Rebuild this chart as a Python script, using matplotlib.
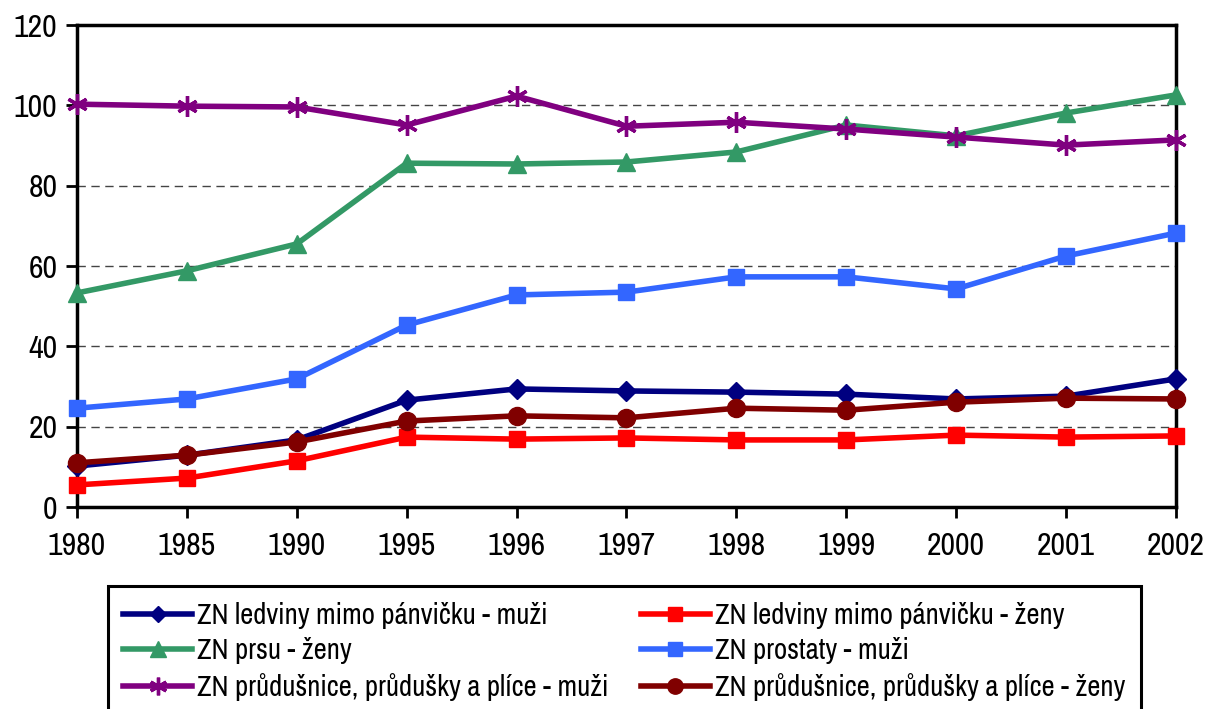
import matplotlib.pyplot as plt
import numpy as np

years = ["1980", "1985", "1990", "1995", "1996", "1997", "1998", "1999", "2000", "2001", "2002"]

ledviny_muzi = [10.2, 12.9, 16.7, 26.6, 29.4, 28.9, 28.6, 28.1, 26.9, 27.6, 31.9]
ledviny_zeny = [5.5, 7.2, 11.5, 17.4, 16.9, 17.2, 16.7, 16.7, 17.9, 17.4, 17.7]
prsu_zeny = [53.3, 58.8, 65.5, 85.6, 85.4, 85.9, 88.4, 95.1, 92.4, 98.1, 102.6]
prostaty_muzi = [24.6, 26.9, 31.9, 45.3, 52.8, 53.5, 57.3, 57.3, 54.3, 62.5, 68.2]
plice_muzi = [100.3, 99.8, 99.6, 95.1, 102.3, 94.8, 95.8, 94.1, 92.1, 90.1, 91.4]
plice_zeny = [11.0, 12.9, 16.2, 21.4, 22.7, 22.2, 24.6, 24.1, 26.1, 27.1, 26.9]

labels = [
    "ZN ledviny mimo pánvičku - muži",
    "ZN ledviny mimo pánvičku - ženy",
    "ZN prsu - ženy",
    "ZN prostaty - muži",
    "ZN průdušnice, průdušky a plíce - muži",
    "ZN průdušnice, průdušky a plíce - ženy",
]

# narrow sans, close to Arial Narrow
plt.rcParams['font.family'] = ['Liberation Sans Narrow', 'Archivo Narrow', 'Liberation Sans', 'DejaVu Sans']

fig = plt.figure(figsize=(12.08, 7.09), dpi=100)
ax = fig.add_axes([0.0637, 0.2849, 0.9735 - 0.0637, 0.9647 - 0.2849])

x = np.arange(len(years))
series = [
    (ledviny_muzi, "#000080", "D", 10),
    (ledviny_zeny, "#FF0000", "s", 12),
    (prsu_zeny, "#339966", "^", 13),
    (prostaty_muzi, "#3366FF", "s", 12),
    (plice_muzi, "#800080", (6, 2, 0), 15),
    (plice_zeny, "#800000", "o", 13),
]

handles = []
for (vals, color, marker, ms), label in zip(series, labels):
    mew = 2.4 if marker == (6, 2, 0) else 1
    h, = ax.plot(x, vals, color=color, lw=4, marker=marker, markersize=ms,
                 markeredgewidth=mew, markeredgecolor=color, label=label, clip_on=False, zorder=3)
    handles.append(h)

ax.set_xlim(0, len(years) - 1)
ax.set_ylim(0, 120)
ax.set_yticks(range(0, 121, 20))
ax.set_xticks(x)
ax.set_xticklabels(years)
ax.tick_params(axis='both', labelsize=23, width=2, length=8, direction='out', colors='black')
ax.tick_params(axis='x', pad=10)
ax.tick_params(axis='y', pad=6)
ax.yaxis.grid(True, linestyle=(0, (6, 4)), color='#444444', linewidth=1)
ax.set_axisbelow(True)
for sp in ax.spines.values():
    sp.set_linewidth(2.5)
    sp.set_color('black')

# legend rows: navy/red, green/blue, purple/darkred (column-major order for ncol=2)
order = [0, 2, 4, 1, 3, 5]
leg = fig.legend([handles[i] for i in order], [labels[i] for i in order],
                 loc='upper left', bbox_to_anchor=(0.089, 0.1735),
                 ncol=2, fontsize=20.7, frameon=True, fancybox=False, framealpha=1,
                 edgecolor='black', handlelength=2.4, handletextpad=0.18,
                 labelspacing=0.3, borderaxespad=0, borderpad=0.55, columnspacing=1.1,
                 markerscale=0.85)
leg.get_frame().set_linewidth(2.2)

fig.savefig("out.png", dpi=100)
